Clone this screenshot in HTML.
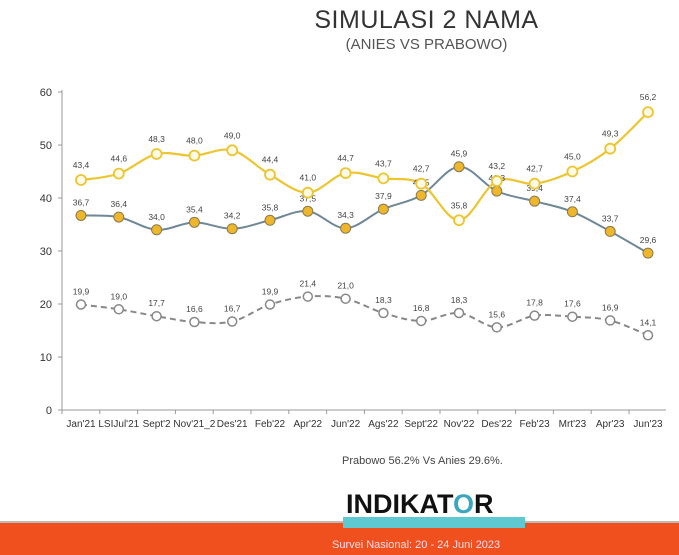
<!DOCTYPE html>
<html><head><meta charset="utf-8"><style>
body{margin:0;width:679px;height:555px;overflow:hidden;background:#fff;font-family:"Liberation Sans",sans-serif;position:relative}
.t{position:absolute;left:0;width:679px;text-align:center;color:#333}
</style></head><body>
<div class="t" style="top:6px;left:87px;font-size:25px;letter-spacing:0.5px">SIMULASI 2 NAMA</div>
<div class="t" style="top:36px;left:87px;font-size:15px;color:#555">(ANIES VS PRABOWO)</div>
<svg id="c" width="679" height="555" style="position:absolute;left:0;top:0"></svg>
<div style="position:absolute;left:0;top:521px;width:679px;height:2px;background:#bbb"></div>
<div style="position:absolute;left:0;top:523px;width:679px;height:32px;background:#f0501e"></div>
<div style="position:absolute;left:343px;top:517px;width:182px;height:11px;background:#5ec9d1"></div>
<div style="position:absolute;left:346px;top:489px;font-size:27px;font-weight:bold;letter-spacing:0px;color:#111">INDIKAT<span style="color:#3aa6c0">O</span>R</div>
<div style="position:absolute;left:332px;top:539px;font-size:11px;color:#fde">Survei Nasional: 20 - 24 Juni 2023</div>
<div style="position:absolute;left:342px;top:455px;font-size:11px;color:#444">Prabowo 56.2% Vs Anies 29.6%.</div>
<script>
const X0=81,DX=37.8,Y=v=>410-v*5.3;
const labs=["Jan'21","LSIJul'21","Sept'2","Nov'21_2","Des'21","Feb'22","Apr'22","Jun'22","Ags'22","Sept'22","Nov'22","Des'22","Feb'23","Mrt'23","Apr'23","Jun'23"];
const P=[43.4,44.6,48.3,48.0,49.0,44.4,41.0,44.7,43.7,42.7,35.8,43.2,42.7,45.0,49.3,56.2];
const A=[36.7,36.4,34.0,35.4,34.2,35.8,37.5,34.3,37.9,40.5,45.9,41.3,39.4,37.4,33.7,29.6];
const U=[19.9,19.0,17.7,16.6,16.7,19.9,21.4,21.0,18.3,16.8,18.3,15.6,17.8,17.6,16.9,14.1];
let s='';
s+=`<line x1="62" y1="90" x2="62" y2="410" stroke="#999"/><line x1="62" y1="410" x2="666" y2="410" stroke="#999"/>`;
for(let v=0;v<=60;v+=10){s+=`<line x1="58" y1="${Y(v)}" x2="62" y2="${Y(v)}" stroke="#999"/><text x="52" y="${Y(v)+4}" font-size="11" text-anchor="end" fill="#333">${v}</text>`;}
labs.forEach((l,i)=>{let x=X0+i*DX;s+=`<line x1="${x-19}" y1="410" x2="${x-19}" y2="414" stroke="#999"/><text x="${x}" y="427" font-size="10" text-anchor="middle" fill="#333">${l}</text>`;});
function path(d){let p=d.map((v,i)=>[X0+i*DX,Y(v)]);let r=`M${p[0]}`;for(let i=0;i<p.length-1;i++){let p0=p[i-1]||p[i],p1=p[i],p2=p[i+1],p3=p[i+2]||p2;let c1=[p1[0]+(p2[0]-p0[0])/6,p1[1]+(p2[1]-p0[1])/6],c2=[p2[0]-(p3[0]-p1[0])/6,p2[1]-(p3[1]-p1[1])/6];r+=`C${c1} ${c2} ${p2}`;}return r;}
s+=`<path d="${path(U)}" fill="none" stroke="#888" stroke-width="2" stroke-dasharray="6,4"/>`;
s+=`<path d="${path(A)}" fill="none" stroke="#6f8796" stroke-width="2"/>`;
s+=`<path d="${path(P)}" fill="none" stroke="#ecc530" stroke-width="2.2"/>`;
U.forEach((v,i)=>{let x=X0+i*DX;s+=`<circle cx="${x}" cy="${Y(v)}" r="4.5" fill="#fff" stroke="#888" stroke-width="1.5"/><text x="${x}" y="${Y(v)-10}" font-size="8.5" text-anchor="middle" fill="#444">${v.toFixed(1).replace('.',',')}</text>`;});
A.forEach((v,i)=>{let x=X0+i*DX;s+=`<circle cx="${x}" cy="${Y(v)}" r="5" fill="#eeb62a" stroke="#8a7a50" stroke-width="1"/><text x="${x}" y="${Y(v)-10}" font-size="8.5" text-anchor="middle" fill="#444">${v.toFixed(1).replace('.',',')}</text>`;});
P.forEach((v,i)=>{let x=X0+i*DX;s+=`<circle cx="${x}" cy="${Y(v)}" r="5" fill="#fffbe8" stroke="#ecc530" stroke-width="1.8"/><text x="${x}" y="${Y(v)-12}" font-size="8.5" text-anchor="middle" fill="#444">${v.toFixed(1).replace('.',',')}</text>`;});
document.getElementById('c').innerHTML=s;
</script>
</body></html>
